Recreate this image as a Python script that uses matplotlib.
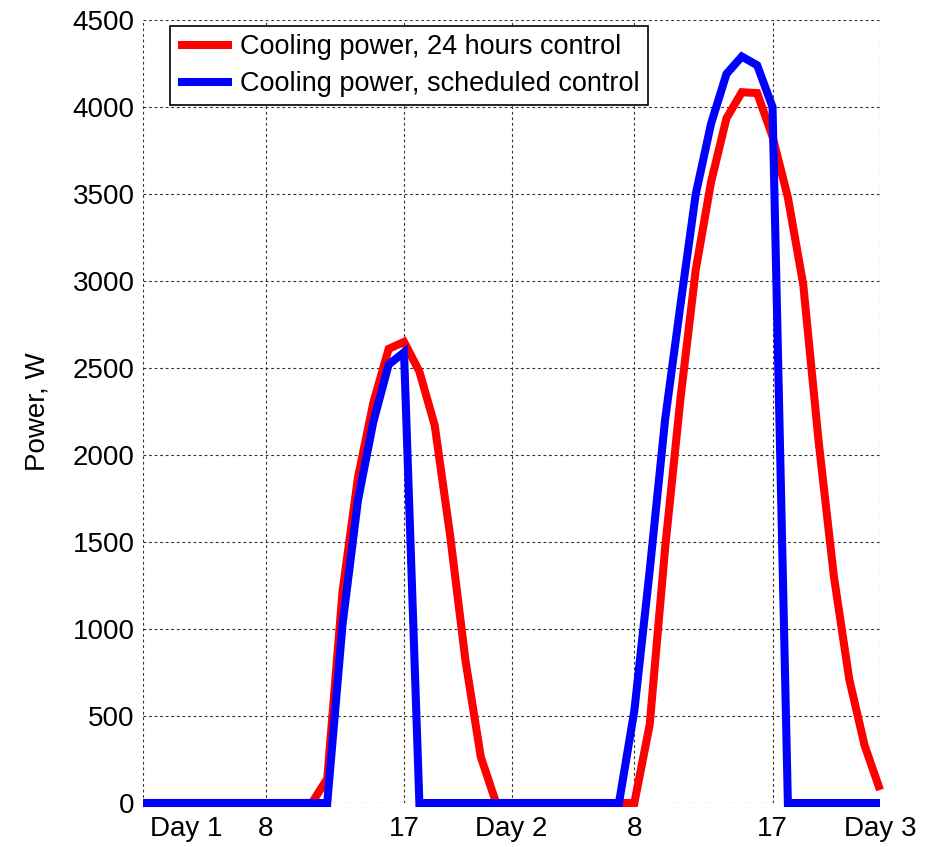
import matplotlib
matplotlib.use('Agg')
import matplotlib.pyplot as plt
import matplotlib.transforms as mtransforms

plt.rcParams['font.family'] = ['Liberation Sans', 'DejaVu Sans']

# hourly samples over two days
hours = list(range(49))
power_24h = [0, 0, 0, 0, 0, 0, 0, 0, 0, 0, 0, 0, 140, 1220, 1870, 2300, 2610, 2650,
             2480, 2170, 1540, 820, 265, 0, 0, 0, 0, 0, 0, 0, 0, 0, 0, 450, 1460,
             2320, 3065, 3570, 3935, 4085, 4080, 3830, 3480, 2980, 2080, 1300, 710,
             330, 75]
power_sched = [0, 0, 0, 0, 0, 0, 0, 0, 0, 0, 0, 0, 0, 1030, 1740, 2190, 2520, 2590,
               0, 0, 0, 0, 0, 0, 0, 0, 0, 0, 0, 0, 0, 0, 530, 1335, 2200, 2860, 3500,
               3905, 4190, 4290, 4240, 4000, 0, 0, 0, 0, 0, 0, 0]

tick_pos = [0, 8, 17, 24, 32, 41, 48]
tick_labels = ['Day 1', '8', '17', 'Day 2', '8', '17', 'Day 3']
legend_labels = ['Cooling power, 24 hours control', 'Cooling power, scheduled control']

fig = plt.figure(figsize=(9.43, 8.47), dpi=100)
ax = fig.add_axes([143/943, 1 - 803/847, 737/943, 783/847])

ax.plot(hours, power_24h, color='red', linewidth=5.8, clip_on=False,
        solid_joinstyle='miter', solid_capstyle='butt', label=legend_labels[0])
ax.plot(hours, power_sched, color='blue', linewidth=5.8, clip_on=False,
        solid_joinstyle='miter', solid_capstyle='butt', label=legend_labels[1])

ax.set_xlim(0, 48)
ax.set_ylim(0, 4500)
ax.set_xticks(tick_pos)
ax.set_xticklabels(tick_labels)
ax.set_yticks(range(0, 4501, 500))
ax.tick_params(axis='x', length=0, labelsize=20, pad=9)
ax.tick_params(axis='y', length=0, labelsize=20, pad=6)

first = ax.get_xticklabels()[0]
first.set_horizontalalignment('left')
first.set_transform(first.get_transform() +
                    mtransforms.ScaledTranslation(5/72, 0, fig.dpi_scale_trans))

for s in ax.spines.values():
    s.set_visible(False)
ax.grid(True, color='#333333', linestyle=(0, (2.5, 2.5)), linewidth=0.8)
ax.set_axisbelow(True)

ax.set_ylabel('Power, W', fontsize=20, labelpad=16)

leg = ax.legend(loc='upper left', bbox_to_anchor=(0.0366, 0.9923), borderaxespad=0,
                prop={'size': 19.5}, fancybox=False, framealpha=1, edgecolor='black',
                handlelength=2.0, handletextpad=0.3, labelspacing=0.4,
                borderpad=0.3)
leg.get_frame().set_linewidth(1.2)

fig.savefig('out.png', dpi=100)
